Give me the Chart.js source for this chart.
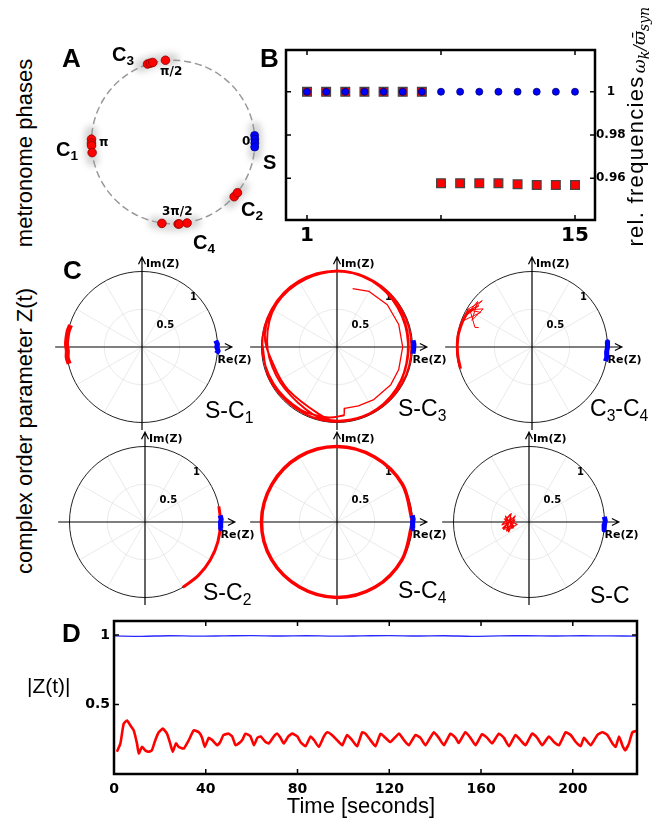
<!DOCTYPE html>
<html>
<head>
<meta charset="utf-8">
<script src="https://cdn.jsdelivr.net/npm/chart.js@4"></script>
<style>
body { margin: 0; background: #fff; font-family: "Liberation Sans", Arial, sans-serif; }
#page { position: relative; width: 655px; height: 819px; overflow: hidden; }
canvas { position: absolute; }
.t { position: absolute; white-space: nowrap; line-height: 1; color: #000; }
.big { font-weight: bold; font-size: 26px; }
.cl { font-weight: bold; font-size: 20px; }
.ph { font-family: "DejaVu Sans", sans-serif; font-weight: bold; font-size: 12px; }
.pair { font-size: 23px; }
.sub { font-size: 0.68em; position: relative; top: 0.3em; }
.rot { transform: translate(-50%, -50%) rotate(-90deg); font-size: 22px; }
.math { font-family: "DejaVu Serif", serif; font-style: italic; font-size: 17px; }
</style>
</head>
<body>
<div id="page">
  <canvas id="chartA" width="230" height="260" style="left:45px;top:0px"></canvas>
  <canvas id="chartB" width="364" height="212" style="left:276px;top:40px"></canvas>
  <canvas id="pSC1" width="215" height="185"></canvas>
  <canvas id="pSC3" width="215" height="185"></canvas>
  <canvas id="pC3C4" width="215" height="185"></canvas>
  <canvas id="pSC2" width="215" height="185"></canvas>
  <canvas id="pSC4" width="215" height="185"></canvas>
  <canvas id="pSC" width="215" height="185"></canvas>
  <canvas id="chartD" width="625" height="214" style="left:30px;top:605px"></canvas>

  <div class="t rot" style="left:25px;top:153px">metronome phases</div>
  <div class="t rot" style="left:25px;top:431px">complex order parameter Z(t)</div>
  <div class="t rot" style="left:636px;top:161px;letter-spacing:1.3px">rel. frequencies</div>
  <div class="t rot math" style="left:641px;top:40px">ω<sub>k</sub>/ϖ̄<sub>syn</sub></div>

  <div class="t big" style="left:62px;top:45px">A</div>
  <div class="t big" style="left:260px;top:45px">B</div>
  <div class="t big" style="left:63px;top:257px">C</div>
  <div class="t big" style="left:62px;top:620px">D</div>

  <div class="t cl" style="left:112px;top:44px">C<span class="sub">3</span></div>
  <div class="t cl" style="left:56px;top:139px">C<span class="sub">1</span></div>
  <div class="t cl" style="left:241px;top:199px">C<span class="sub">2</span></div>
  <div class="t cl" style="left:193px;top:232px">C<span class="sub">4</span></div>
  <div class="t cl" style="left:263px;top:152px">S</div>
  <div class="t ph" style="left:160px;top:65px">π/2</div>
  <div class="t ph" style="left:99px;top:136px">π</div>
  <div class="t ph" style="left:242px;top:135px">0</div>
  <div class="t ph" style="left:162px;top:205px">3π/2</div>

  <div class="t pair" style="left:205px;top:399px">S-C<span class="sub">1</span></div>
  <div class="t pair" style="left:398px;top:397px">S-C<span class="sub">3</span></div>
  <div class="t pair" style="left:590px;top:397px">C<span class="sub">3</span>-C<span class="sub">4</span></div>
  <div class="t pair" style="left:203px;top:581px">S-C<span class="sub">2</span></div>
  <div class="t pair" style="left:398px;top:579px">S-C<span class="sub">4</span></div>
  <div class="t pair" style="left:590px;top:584px">S-C</div>

  <div class="t" style="left:27px;top:675px;font-size:21px">|Z(t)|</div>
  <div class="t" style="left:361px;top:795px;font-size:22px;transform:translateX(-50%)">Time [seconds]</div>
</div>

<script>
// ---------- A: metronome phases (degrees) ----------
const phaseS  = [4.6, 2.0, -0.7, -3.5];
const phaseC1 = [178, 180.7, 182.5, 187.4];
const phaseC2 = [-41.7, -38.1];
const phaseC3 = [108.3, 106.3, 104.4, 95.4];
const phaseC4 = [262.1, 273.5, 274.4, 279.8];

// ---------- B: relative frequencies ----------
const metronomes = [1, 2, 3, 4, 5, 6, 7, 8, 9, 10, 11, 12, 13, 14, 15];
const freqS = [1, 1, 1, 1, 1, 1, 1, 1, 1, 1, 1, 1, 1, 1, 1];
const freqC = [1, 1, 1, 1, 1, 1, 1, 0.9577, 0.9577, 0.9577, 0.9577, 0.9572, 0.9569, 0.9569, 0.9569];
const ticksBx = [1, 8, 15];
const ticksBy = [0.96, 0.98, 1];

// ---------- C: order parameter trajectories, |Z| and arg Z (deg) ----------
const sc1RedAbs = [0.99, 1.0, 1.0, 1.0, 0.99, 1.0, 0.99];
const sc1RedArg = [163, 168, 173, 178, 183, 188, 193];
const sc1BlueAbs = [0.98, 1.0, 0.99, 1.01, 0.99];
const sc1BlueArg = [5, 2, 0, -3, -5];

const sc3InnerAbs = [0.80, 0.85, 0.87, 0.87, 0.87, 0.87, 0.87, 0.85, 0.83, 0.82, 0.91];
const sc3InnerArg = [75, 60, 40, 20, 0, -20, -35, -55, -70, -83, -84];
const sc3LoopAbs = [0.91, 0.94, 0.96, 0.97, 0.99, 1.00, 1.01, 1.01, 1.00, 0.99, 0.985, 0.99, 0.99, 0.99,
  0.92, 0.86, 0.87, 0.97, 1.00, 1.00, 1.01, 0.99, 0.96, 0.95, 0.97, 0.98, 0.97, 0.90, 0.89, 0.93,
  0.98, 0.99, 1.00, 0.98, 0.95, 0.94, 0.96, 0.98, 0.99, 0.98, 0.99, 1.00];
const sc3LoopArg = [-84, -97, -120, -150, -180, -210, -240, -270, -300, -330, -360, -390, -420, -450,
  -465, -499, -523, -550, -580, -610, -640, -670, -700, -730, -760, -790, -820, -845, -875, -905,
  -935, -965, -995, -1025, -1055, -1085, -1115, -1145, -1175, -1205, -1235, -1265];
const sc3BlueAbs = [1.01, 1.02, 1.01, 1.02, 1.01];
const sc3BlueArg = [5, 2, 0, -2, -5];

const c34ArcAbs = [0.99, 0.99, 0.99, 0.98, 0.97];
const c34ArcArg = [197, 185, 172, 160, 150];
const c34LoopAbs = [0.97, 0.89, 0.98, 0.90, 0.99, 0.82, 0.99, 0.94, 0.87, 0.82, 0.96, 0.80, 0.75];
const c34LoopArg = [150, 142, 156, 137, 150, 146, 160, 140, 156, 142, 149, 161, 160];
const c34BlueAbs = [1.0, 1.0, 0.99, 1.0, 0.99];
const c34BlueArg = [4, 0, -4, -8, -11];

const sc2RedAbs = [1.0, 1.0, 1.0, 1.0, 1.0, 1.0];
const sc2RedArg = [12, 0, -15, -30, -45, -60];
const sc2BlueAbs = [1.0, 1.01, 1.0, 1.0, 1.01];
const sc2BlueArg = [5, 2, 0, -3, -5];

const sc4RedAbs = [1.0, 1.0, 0.995, 1.0, 1.0, 0.995, 1.0, 1.0, 0.995, 1.0, 1.0, 0.995, 1.0];
const sc4RedArg = [0, 30, 60, 90, 120, 150, 180, 210, 240, 270, 300, 330, 360];
const sc4BlueAbs = [1.0, 1.01, 1.0, 1.0, 1.01];
const sc4BlueArg = [5, 2, 0, -3, -5];

const scRedAbs = [0.27, 0.30, 0.21, 0.36, 0.20, 0.30, 0.22, 0.33, 0.16, 0.32, 0.26, 0.36, 0.19, 0.30, 0.32, 0.22, 0.35, 0.24];
const scRedArg = [158, 171, 194, 193, 156, 200, 180, 173, 191, 202, 155, 186, 171, 206, 166, 201, 196, 165];
const scBlueAbs = [1.0, 1.01, 1.0, 1.0];
const scBlueArg = [4, 1, -2, -6];

// ---------- D: |Z(t)| over time ----------
const timeRed = [1.3, 2.8, 4.2, 5.7, 7.1, 8.6, 10, 10.8, 12.2, 13.6,
  15.1, 16.5, 18, 19.5, 21.3, 23.1, 24.5, 25.6, 27, 28.2,
  30.4, 32.5, 34.8, 37, 38.4, 39.6, 41.3, 42.8, 45, 46.3,
  47.7, 50, 51.5, 53, 54.4, 55.9, 57.3, 59.5, 61, 62.5,
  63.9, 66.1, 67.5, 69.7, 71.2, 72.6, 74, 76, 77.7, 79.9,
  81.3, 83.5, 85.7, 87.2, 89.3, 91.5, 93, 95, 98, 99.5,
  101.6, 103.8, 106, 108.2, 109.6, 111.8, 114, 116.2, 118.3, 120.5,
  124.2, 126.4, 128.5, 131.4, 133.6, 135.8, 139.4, 141.6, 143.8, 146.7,
  148.9, 150.3, 153.2, 155.4, 157.6, 160.5, 162.7, 164.8, 167.8, 170,
  172.2, 175, 177.2, 179.4, 182.3, 184.5, 186.7, 189.6, 191.8, 194,
  196.9, 199.1, 201.3, 203.4, 204.9, 207.8, 210.7, 212.9, 215.1, 217.3,
  218.7, 220.2, 221.6, 222.8, 224.5, 226, 228];
const absZRed = [0.16, 0.22, 0.36, 0.385, 0.35, 0.314, 0.22, 0.148, 0.195, 0.17,
  0.16, 0.17, 0.243, 0.30, 0.326, 0.29, 0.22, 0.16, 0.22, 0.195,
  0.183, 0.24, 0.314, 0.30, 0.26, 0.195, 0.26, 0.244, 0.207, 0.23,
  0.28, 0.29, 0.27, 0.207, 0.22, 0.244, 0.29, 0.27, 0.207, 0.26,
  0.27, 0.23, 0.22, 0.27, 0.29, 0.26, 0.22, 0.27, 0.29, 0.27,
  0.23, 0.20, 0.27, 0.244, 0.195, 0.27, 0.30, 0.28, 0.23, 0.207,
  0.28, 0.244, 0.20, 0.30, 0.29, 0.244, 0.20, 0.29, 0.26, 0.23,
  0.29, 0.244, 0.207, 0.28, 0.26, 0.207, 0.30, 0.26, 0.207, 0.29,
  0.26, 0.224, 0.30, 0.26, 0.207, 0.286, 0.26, 0.22, 0.29, 0.26,
  0.20, 0.28, 0.244, 0.207, 0.29, 0.26, 0.207, 0.27, 0.23, 0.207,
  0.30, 0.28, 0.23, 0.20, 0.26, 0.207, 0.28, 0.30, 0.28, 0.22,
  0.195, 0.27, 0.207, 0.17, 0.22, 0.30, 0.31];
const timeBlue = [0, 12, 24, 36, 48, 60, 72, 84, 96, 108, 120, 132, 144, 156, 168, 180, 192, 204, 216, 228];
const absZBlue = [0.993, 0.99, 0.994, 0.991, 0.993, 0.995, 0.992, 0.994, 0.991, 0.993,
  0.995, 0.992, 0.994, 0.99, 0.993, 0.994, 0.992, 0.994, 0.993, 0.991];
const ticksDx = [0, 40, 80, 120, 160, 200];
const ticksDy = [0.5, 1];

const RED = '#ff0000', BLUE = '#0000ff';
const BOLD = 'DejaVu Sans';

function polar(abs, arg) {
  return abs.map((r, i) => ({
    x: r * Math.cos(arg[i] * Math.PI / 180),
    y: r * Math.sin(arg[i] * Math.PI / 180)
  }));
}

const baseOpts = {
  responsive: false,
  devicePixelRatio: 1,
  animation: false,
  events: [],
  plugins: { legend: { display: false }, tooltip: { enabled: false } }
};

// thick box with inward ticks
const boxFrame = {
  id: 'boxFrame',
  afterDraw(chart) {
    const { ctx, chartArea: a, scales: { x, y } } = chart;
    const len = 5;
    ctx.save();
    ctx.strokeStyle = '#000';
    ctx.lineWidth = 1.5;
    x.ticks.forEach(t => {
      const px = x.getPixelForValue(t.value);
      ctx.beginPath();
      ctx.moveTo(px, a.top); ctx.lineTo(px, a.top + len);
      ctx.moveTo(px, a.bottom); ctx.lineTo(px, a.bottom - len);
      ctx.stroke();
    });
    y.ticks.forEach(t => {
      const py = y.getPixelForValue(t.value);
      ctx.beginPath();
      ctx.moveTo(a.left, py); ctx.lineTo(a.left + len, py);
      ctx.moveTo(a.right, py); ctx.lineTo(a.right - len, py);
      ctx.stroke();
    });
    ctx.lineWidth = 2.5;
    ctx.strokeRect(a.left, a.top, a.right - a.left, a.bottom - a.top);
    ctx.restore();
  }
};

// ---------- A ----------
const phaseCircle = {
  id: 'phaseCircle',
  beforeDatasetsDraw(chart) {
    const { ctx, scales: { x, y } } = chart;
    const cx = x.getPixelForValue(0), cy = y.getPixelForValue(0);
    const r = x.getPixelForValue(1) - cx;
    ctx.save();
    ctx.filter = 'blur(3px)';
    ctx.strokeStyle = 'rgba(110,110,110,0.28)';
    ctx.lineWidth = 13;
    ctx.lineCap = 'round';
    [phaseS, phaseC1, phaseC2, phaseC3, phaseC4].forEach(ph => {
      const a0 = (Math.min(...ph) - 5) * Math.PI / 180;
      const a1 = (Math.max(...ph) + 5) * Math.PI / 180;
      ctx.beginPath();
      ctx.arc(cx, cy, r + 1, -a1, -a0);
      ctx.stroke();
    });
    ctx.filter = 'none';
    ctx.setLineDash([6, 5]);
    ctx.strokeStyle = '#999';
    ctx.lineWidth = 1.5;
    ctx.beginPath();
    ctx.arc(cx, cy, r, 0, 2 * Math.PI);
    ctx.stroke();
    ctx.restore();
  }
};

const ones = n => new Array(n).fill(1);
new Chart(document.getElementById('chartA'), {
  type: 'scatter',
  data: {
    datasets: [
      { data: polar(ones(phaseS.length), phaseS), backgroundColor: BLUE, borderColor: '#00008b', borderWidth: 0.8, pointRadius: 4 },
      { data: polar(ones(4), phaseC1).concat(polar(ones(2), phaseC2), polar(ones(4), phaseC3), polar(ones(4), phaseC4)),
        backgroundColor: RED, borderColor: '#8b0000', borderWidth: 0.8, pointRadius: 4.3 }
    ]
  },
  options: Object.assign({}, baseOpts, {
    layout: { padding: 0 },
    scales: {
      x: { type: 'linear', display: false, min: -1.506, max: 1.184 },
      y: { type: 'linear', display: false, min: -1.374, max: 1.667 }
    }
  }),
  plugins: [phaseCircle]
});

// ---------- B ----------
new Chart(document.getElementById('chartB'), {
  type: 'scatter',
  data: {
    datasets: [
      { data: metronomes.map((m, i) => ({ x: m, y: freqS[i] })), pointStyle: 'circle', pointRadius: 3.5,
        backgroundColor: BLUE, borderColor: '#00006a', borderWidth: 0.8 },
      { data: metronomes.map((m, i) => ({ x: m, y: freqC[i] })), pointStyle: 'rect', pointRadius: 6.2,
        backgroundColor: RED, borderColor: '#444', borderWidth: 1.2 }
    ]
  },
  options: Object.assign({}, baseOpts, {
    layout: { padding: { left: 10, top: 10, right: 0, bottom: 0 } },
    scales: {
      x: {
        type: 'linear', position: 'bottom', min: -0.097, max: 16.045,
        afterBuildTicks: s => { s.ticks = ticksBx.map(v => ({ value: v })); },
        afterFit: s => { s.height = 32; },
        grid: { display: false, drawTicks: false }, border: { display: false },
        ticks: { callback: v => (v === 8 ? '' : v), autoSkip: false, maxRotation: 0, padding: 4,
          color: '#000', font: { family: BOLD, weight: 'bold', size: 20 } }
      },
      y: {
        type: 'linear', position: 'right', min: 0.9407, max: 1.0193,
        afterBuildTicks: s => { s.ticks = ticksBy.map(v => ({ value: v })); },
        afterFit: s => { s.width = 45; },
        grid: { display: false, drawTicks: false }, border: { display: false },
        ticks: { callback: v => (v === 1 ? '1' : v.toFixed(2)), crossAlign: 'center', padding: 1,
          color: '#000', font: { family: BOLD, weight: 'bold', size: 12 } }
      }
    }
  }),
  plugins: [boxFrame]
});

// ---------- C ----------
const polarGrid = {
  id: 'polarGrid',
  beforeDatasetsDraw(chart) {
    const { ctx, scales: { x, y } } = chart;
    const cx = x.getPixelForValue(0), cy = y.getPixelForValue(0);
    const u = x.getPixelForValue(1) - cx;
    ctx.save();
    ctx.strokeStyle = '#e4e4e4';
    ctx.lineWidth = 0.8;
    for (let a = 30; a < 360; a += 30) {
      if (a % 90 === 0) continue;
      const t = a * Math.PI / 180;
      ctx.beginPath();
      ctx.moveTo(cx, cy);
      ctx.lineTo(cx + u * Math.cos(t), cy - u * Math.sin(t));
      ctx.stroke();
    }
    ctx.beginPath();
    ctx.arc(cx, cy, 0.5 * u, 0, 2 * Math.PI);
    ctx.stroke();
    ctx.strokeStyle = '#222';
    ctx.lineWidth = 1;
    ctx.beginPath();
    ctx.arc(cx, cy, u, 0, 2 * Math.PI);
    ctx.stroke();
    // axes with arrows
    const xl = x.getPixelForValue(-1.15), xr = x.getPixelForValue(1.19);
    const yt = y.getPixelForValue(1.19), yb = y.getPixelForValue(-1.10);
    ctx.strokeStyle = '#000';
    ctx.lineWidth = 1.2;
    ctx.beginPath();
    ctx.moveTo(xl, cy); ctx.lineTo(xr, cy);
    ctx.moveTo(xr - 7, cy - 3.5); ctx.lineTo(xr, cy); ctx.lineTo(xr - 7, cy + 3.5);
    ctx.moveTo(cx, yb); ctx.lineTo(cx, yt);
    ctx.moveTo(cx - 3.5, yt + 7); ctx.lineTo(cx, yt); ctx.lineTo(cx + 3.5, yt + 7);
    ctx.stroke();
    ctx.fillStyle = '#000';
    ctx.font = 'bold 11px "DejaVu Sans"';
    ctx.textBaseline = 'alphabetic';
    ctx.textAlign = 'left';
    ctx.fillText('Im(Z)', cx + 4, yt + 10);
    ctx.fillText('Re(Z)', cx + 1.0 * u, cy + 16);
    ctx.font = 'bold 10px "DejaVu Sans"';
    ctx.textAlign = 'center';
    ctx.textBaseline = 'middle';
    ctx.fillText('0.5', cx + 0.31 * u, cy - 0.29 * u);
    ctx.fillText('1', cx + 0.68 * u, cy - 0.66 * u);
    ctx.restore();
  }
};

function line(abs, arg, color, width, tension) {
  return { data: polar(abs, arg), showLine: true, borderColor: color, borderWidth: width,
    pointRadius: 0, tension: tension, fill: false, borderCapStyle: 'butt', borderJoinStyle: 'round' };
}

function polarChart(id, cx, cy, datasets) {
  const el = document.getElementById(id);
  el.style.left = (cx - 95) + 'px';
  el.style.top = (cy - 97) + 'px';
  new Chart(el, {
    type: 'scatter',
    data: { datasets: datasets },
    options: Object.assign({}, baseOpts, {
      layout: { padding: 0 },
      scales: {
        x: { type: 'linear', display: false, min: -1.258, max: 1.589 },
        y: { type: 'linear', display: false, min: -1.166, max: 1.285 }
      }
    }),
    plugins: [polarGrid]
  });
}

polarChart('pSC1', 142, 347, [
  line(sc1BlueAbs, sc1BlueArg, BLUE, 5, 0),
  line(sc1RedAbs, sc1RedArg, RED, 5, 0.35)
]);
polarChart('pSC3', 337, 347, [
  line(sc3BlueAbs, sc3BlueArg, BLUE, 5, 0),
  line(sc3InnerAbs, sc3InnerArg, RED, 1.3, 0),
  line(sc3LoopAbs, sc3LoopArg, RED, 2, 0.35)
]);
polarChart('pC3C4', 532, 347, [
  line(c34BlueAbs, c34BlueArg, BLUE, 5, 0),
  line(c34ArcAbs, c34ArcArg, RED, 3, 0.35),
  line(c34LoopAbs, c34LoopArg, RED, 1, 0)
]);
polarChart('pSC2', 145, 522, [
  line(sc2BlueAbs, sc2BlueArg, BLUE, 5, 0),
  line(sc2RedAbs, sc2RedArg, RED, 3, 0.35)
]);
polarChart('pSC4', 337, 522, [
  line(sc4BlueAbs, sc4BlueArg, BLUE, 5, 0),
  line(sc4RedAbs, sc4RedArg, RED, 3.5, 0.35)
]);
polarChart('pSC', 529, 522, [
  line(scBlueAbs, scBlueArg, BLUE, 5, 0),
  line(scRedAbs, scRedArg, RED, 1.2, 0)
]);

// ---------- D ----------
new Chart(document.getElementById('chartD'), {
  type: 'scatter',
  data: {
    datasets: [
      { data: timeBlue.map((t, i) => ({ x: t, y: absZBlue[i] })), showLine: true, borderColor: '#2a2aff',
        borderWidth: 1.3, pointRadius: 0, tension: 0.3 },
      { data: timeRed.map((t, i) => ({ x: t, y: absZRed[i] })), showLine: true, borderColor: RED,
        borderWidth: 2.6, pointRadius: 0, tension: 0.15 }
    ]
  },
  options: Object.assign({}, baseOpts, {
    layout: { padding: { left: 0, top: 16, right: 18, bottom: 0 } },
    scales: {
      x: {
        type: 'linear', position: 'bottom', min: 0, max: 228,
        afterBuildTicks: s => { s.ticks = ticksDx.map(v => ({ value: v })); },
        afterFit: s => { s.height = 45; },
        grid: { display: false, drawTicks: false }, border: { display: false },
        ticks: { autoSkip: false, maxRotation: 0, padding: 7, color: '#000',
          font: { family: BOLD, weight: 'bold', size: 14 } }
      },
      y: {
        type: 'linear', position: 'left', min: 0, max: 1.1,
        afterBuildTicks: s => { s.ticks = ticksDy.map(v => ({ value: v })); },
        afterFit: s => { s.width = 84; },
        grid: { display: false, drawTicks: false }, border: { display: false },
        ticks: { callback: v => String(v), padding: 4, color: '#000',
          font: { family: BOLD, weight: 'bold', size: 14 } }
      }
    }
  }),
  plugins: [boxFrame]
});
</script>
</body>
</html>
